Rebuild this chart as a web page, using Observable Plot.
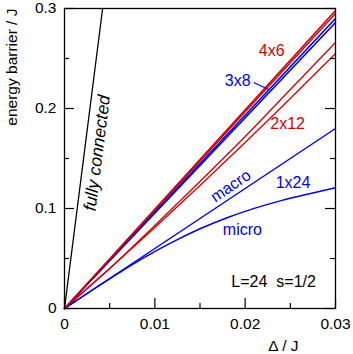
<!DOCTYPE html>
<html><head><meta charset="utf-8">
<script src="https://cdn.jsdelivr.net/npm/d3@7"></script>
<script src="https://cdn.jsdelivr.net/npm/@observablehq/plot@0.6"></script>
<style>
body{margin:0;background:#fff}
svg{font-family:"Liberation Sans",Arial,Helvetica,sans-serif}
</style>
</head><body><div id="chart"></div>
<script>
// tick values and labels
const xTicks = [0, 0.01, 0.02, 0.03];
const xTickLabels = ["0", "0.01", "0.02", "0.03"];
const xMinor = [0.005, 0.015, 0.025];
const yTicks = [0, 0.1, 0.2, 0.3];
const yTickLabels = ["0", "0.1", "0.2", "0.3"];
const yMinor = [0.05, 0.15, 0.25];

// series
const fcX = [0, 0.00422];
const fcY = [0, 0.3];
const endX = [0, 0.03];
const y4x6a = [0, 0.298];
const y4x6b = [0, 0.295];
const y3x8a = [0, 0.290];
const y3x8b = [0, 0.286];
const x2x12 = [0, 0.005, 0.01, 0.015, 0.02, 0.025, 0.03];
const y2x12a = [0, 0.040, 0.083, 0.127, 0.172, 0.219, 0.266];
const y2x12b = [0, 0.040, 0.081, 0.123, 0.166, 0.210, 0.255];
const yMacro = [0, 0.18];
const xMicro = [0, 0.003, 0.006, 0.009, 0.012, 0.015, 0.018, 0.021, 0.024, 0.027, 0.030];
const yMicro = [0, 0.018, 0.0354, 0.0518, 0.0666, 0.0797, 0.0908, 0.1001, 0.1079, 0.1146, 0.1208];

const RED = "#d40000", BLUE = "#0000f0";
const series = [
  {xs: fcX, ys: fcY, color: "#000", w: 1.3},
  {xs: x2x12, ys: y2x12a, color: RED, w: 1.3},
  {xs: x2x12, ys: y2x12b, color: RED, w: 1.3},
  {xs: endX, ys: yMacro, color: BLUE, w: 1.5},
  {xs: xMicro, ys: yMicro, color: BLUE, w: 1.5},
  {xs: endX, ys: y3x8a, color: BLUE, w: 1.6},
  {xs: endX, ys: y3x8b, color: BLUE, w: 1.6},
  {xs: endX, ys: y4x6a, color: RED, w: 1.6},
  {xs: endX, ys: y4x6b, color: RED, w: 1.4}
];

// annotation labels (data coordinates)
const labels = [
  {text: "4x6", x: 0.02293, y: 0.258, color: RED, rot: 0},
  {text: "3x8", x: 0.01917, y: 0.228, color: BLUE, rot: 0},
  {text: "2x12", x: 0.0247, y: 0.185, color: RED, rot: 0},
  {text: "1x24", x: 0.0253, y: 0.1255, color: BLUE, rot: 0},
  {text: "micro", x: 0.01969, y: 0.079, color: BLUE, rot: 0},
  {text: "macro", x: 0.0184, y: 0.1225, color: BLUE, rot: -34},
  {text: "L=24\u00a0\u00a0s=1/2", x: 0.02315, y: 0.0265, color: "#000", rot: 0}
];
const fcLabel = [{text: "fully connected", x: 0.00362, y: 0.1555}];
const leader = [{x1: 0.02094, y1: 0.226, x2: 0.0226, y2: 0.219}];

const W = 353, H = 354, mL = 64, mR = 18, mT = 8, mB = 46;
const pw = W - mL - mR, ph = H - mT - mB;

const marks = [];
for (const s of series) {
  const rows = s.xs.map((x, i) => ({x, y: s.ys[i]}));
  marks.push(Plot.line(rows, {x: "x", y: "y", stroke: s.color, strokeWidth: s.w, curve: s.xs.length > 2 ? "monotone-x" : "linear"}));
}
marks.push(
  Plot.link(leader, {x1: "x1", y1: "y1", x2: "x2", y2: "y2", stroke: BLUE, strokeWidth: 1.2}),
  Plot.text(labels, {x: "x", y: "y", text: "text", fill: "color", rotate: "rot", fontSize: 16}),
  Plot.text(fcLabel, {x: "x", y: "y", text: "text", fill: "#000", rotate: -82.8, fontSize: 17.5, fontStyle: "italic"}),
  // inward ticks
  Plot.tickX(xTicks, {x: d => d, insetTop: ph - 10, stroke: "#000", strokeWidth: 1.2}),
  Plot.tickX(xMinor, {x: d => d, insetTop: ph - 5, stroke: "#000", strokeWidth: 1.2}),
  Plot.tickY(yTicks, {y: d => d, insetRight: pw - 10, stroke: "#000", strokeWidth: 1.2}),
  Plot.tickY(yMinor, {y: d => d, insetRight: pw - 5, stroke: "#000", strokeWidth: 1.2}),
  Plot.tickY(yTicks, {y: d => d, insetLeft: pw - 10, stroke: "#000", strokeWidth: 1.2}),
  Plot.tickY(yMinor, {y: d => d, insetLeft: pw - 5, stroke: "#000", strokeWidth: 1.2}),
  Plot.axisX(xTicks, {tickSize: 0, tickPadding: 9, tickFormat: d => xTickLabels[xTicks.indexOf(d)], fontSize: 15.5, label: null, fill: "#000"}),
  Plot.axisY(yTicks, {tickSize: 0, tickPadding: 8, tickFormat: d => yTickLabels[yTicks.indexOf(d)], fontSize: 15.5, label: null, fill: "#000"}),
  Plot.frame({stroke: "#000", strokeWidth: 1.3}),
  Plot.text(["energy barrier / J"], {frameAnchor: "top-left", text: d => d, rotate: -90, textAnchor: "end", lineAnchor: "middle", dx: -52, dy: 0, fontSize: 15.5, fill: "#000"}),
  Plot.text(["\u0394 / J"], {frameAnchor: "bottom-right", text: d => d, textAnchor: "end", lineAnchor: "middle", dx: -37, dy: 38, fontSize: 15.5, fill: "#000"})
);

const chart = Plot.plot({
  width: W, height: H,
  marginLeft: mL, marginRight: mR, marginTop: mT, marginBottom: mB,
  x: {domain: [0, 0.03], axis: null},
  y: {domain: [0, 0.3], axis: null},
  style: {background: "#fff", color: "#000", fontFamily: "'Liberation Sans', Arial, sans-serif"},
  marks
});
document.getElementById("chart").appendChild(chart);
</script>
</body></html>
